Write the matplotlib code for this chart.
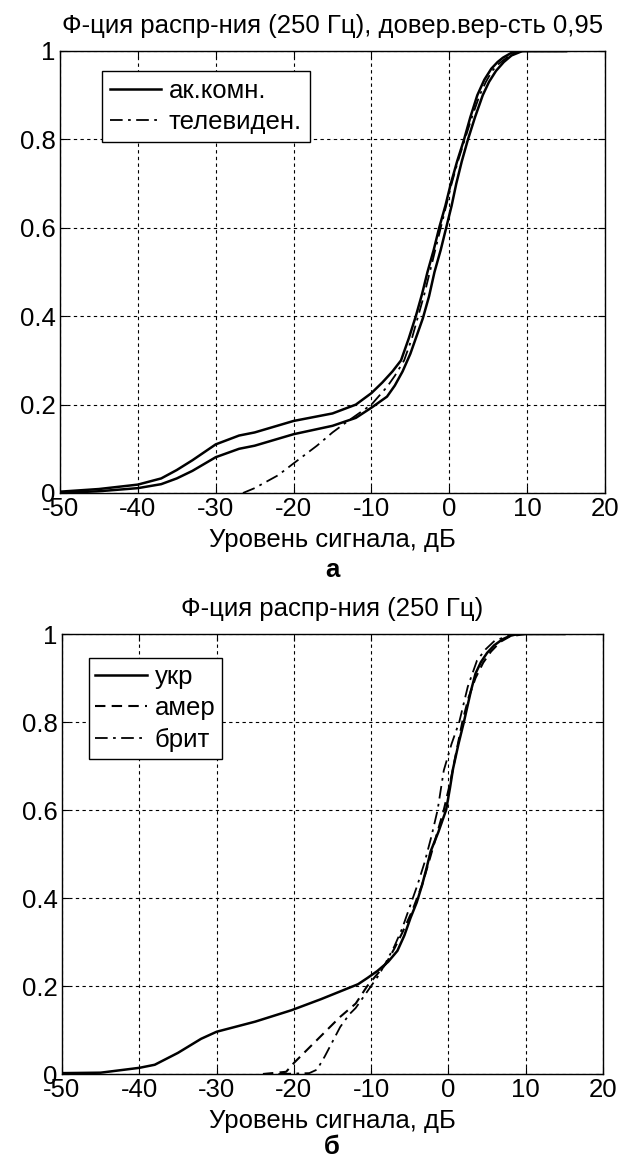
import matplotlib
matplotlib.use("Agg")
import matplotlib.pyplot as plt

plt.rcParams['font.family'] = ['Liberation Sans', 'DejaVu Sans']
plt.rcParams['axes.unicode_minus'] = False

# --- верхний график (а) ---
ak_hi_x = [-50, -45, -40, -37, -35, -33, -30, -27, -25, -20, -15, -12, -10, -8.6, -7.3, -6.2, -5.2, -4.3, -3.5, -2.8, -2.0, -1.3, -0.5, 0.2, 1.0, 1.9, 2.7, 3.6, 4.5, 5.4, 6.2, 6.9, 8, 9, 15]
ak_hi_y = [0.003, 0.009, 0.019, 0.033, 0.052, 0.074, 0.11, 0.13, 0.137, 0.163, 0.18, 0.2, 0.226, 0.25, 0.275, 0.3, 0.35, 0.4, 0.45, 0.5, 0.55, 0.6, 0.65, 0.7, 0.75, 0.8, 0.85, 0.9, 0.935, 0.96, 0.975, 0.985, 0.996, 1, 1]
ak_lo_x = [-50, -45, -40, -37, -35, -33, -30, -27, -25, -20, -15, -12, -10, -8, -7, -6, -5, -4.2, -3.4, -2.6, -1.9, -1.1, -0.4, 0.3, 0.9, 1.6, 2.4, 3.3, 4.3, 5.1, 6, 7, 8, 9.4, 15]
ak_lo_y = [0, 0.004, 0.011, 0.02, 0.033, 0.05, 0.081, 0.1, 0.107, 0.133, 0.152, 0.17, 0.193, 0.218, 0.243, 0.275, 0.315, 0.355, 0.395, 0.445, 0.5, 0.55, 0.6, 0.65, 0.7, 0.75, 0.8, 0.85, 0.9, 0.93, 0.955, 0.975, 0.99, 1, 1]
tv_x = [-26.5, -25, -22, -20, -17, -15, -13, -10, -8, -7, -5.8, -4.8, -4, -3.2, -2.5, -1.8, -1.1, -0.4, 0.3, 1.1, 2.0, 2.9, 3.9, 4.7, 5.5, 6.3, 7, 8, 9, 14]
tv_y = [0, 0.011, 0.04, 0.067, 0.107, 0.137, 0.163, 0.2, 0.24, 0.265, 0.3, 0.35, 0.4, 0.45, 0.5, 0.55, 0.6, 0.65, 0.7, 0.75, 0.8, 0.85, 0.9, 0.93, 0.955, 0.97, 0.98, 0.993, 1, 1]

# --- нижний график (б) ---
ukr_x = [-50, -45, -40, -38, -35, -32, -30, -25, -20.3, -16.5, -11.7, -10.5, -9.2, -7.8, -6.6, -5.7, -4.9, -4.1, -3.4, -2.8, -2.3, -1.3, -0.3, 0.2, 0.6, 1.3, 2.0, 2.9, 3.5, 4.2, 5.0, 5.9, 7, 8, 9, 15]
ukr_y = [0.002, 0.003, 0.014, 0.021, 0.048, 0.08, 0.096, 0.119, 0.145, 0.17, 0.204, 0.218, 0.234, 0.255, 0.28, 0.315, 0.355, 0.39, 0.43, 0.47, 0.506, 0.55, 0.6, 0.65, 0.694, 0.75, 0.8, 0.87, 0.91, 0.936, 0.957, 0.974, 0.988, 0.996, 1, 1]
amer_x = [-24, -21, -20, -18, -16, -14, -12, -10.5, -9.3, -8.1, -7, -6, -4.7, -3.4, -2.4, -1.5, -0.6, 0.2, 1.0, 1.8, 2.6, 3.5, 4.5, 5.5, 6.7, 8, 10]
amer_y = [0, 0.005, 0.025, 0.06, 0.095, 0.13, 0.16, 0.2, 0.225, 0.25, 0.285, 0.32, 0.37, 0.43, 0.49, 0.545, 0.6, 0.66, 0.73, 0.8, 0.855, 0.9, 0.935, 0.96, 0.982, 0.995, 1]
brit_x = [-22, -18, -17, -16, -14, -12.8, -12, -10, -9, -8.2, -7, -6, -5, -4, -3.1, -2.2, -1.4, -0.6, 0.4, 1.4, 2.5, 3.7, 4.8, 6, 8, 9.8]
brit_y = [0, 0.002, 0.01, 0.04, 0.107, 0.136, 0.15, 0.2, 0.225, 0.25, 0.29, 0.33, 0.38, 0.43, 0.48, 0.54, 0.6, 0.69, 0.75, 0.8, 0.88, 0.94, 0.965, 0.985, 0.997, 1]

xticks = [-50, -40, -30, -20, -10, 0, 10, 20]
yticks = [0, 0.2, 0.4, 0.6, 0.8, 1]
ytlabels = ['0', '0.2', '0.4', '0.6', '0.8', '1']

W, H = 627, 1161
fig = plt.figure(figsize=(W / 100, H / 100), dpi=100)

DASHDOT = (0, (7, 3, 1.5, 3))
DASHED = (0, (5, 3))
FS = 18.5


def setup(ax):
    ax.set_xlim(-50, 20)
    ax.set_ylim(0, 1)
    ax.set_xticks(xticks)
    ax.set_yticks(yticks)
    ax.set_yticklabels(ytlabels)
    ax.grid(True, color='black', linestyle=(0, (3, 3)), linewidth=0.8)
    ax.tick_params(direction='in', top=True, right=True, length=5, labelsize=FS, pad=3)
    for s in ax.spines.values():
        s.set_linewidth(1.0)
    ax.set_xlabel('Уровень сигнала, дБ', fontsize=FS, labelpad=5)


ax1 = fig.add_axes([60 / W, 1 - 493 / H, 545 / W, 442 / H])
setup(ax1)
l1, = ax1.plot(ak_hi_x, ak_hi_y, color='black', lw=1.8, label='ак.комн.')
ax1.plot(ak_lo_x, ak_lo_y, color='black', lw=1.8)
l2, = ax1.plot(tv_x, tv_y, color='black', lw=1.3, linestyle=DASHDOT, label='телевиден.')
ax1.set_title('Ф-ция распр-ния (250 Гц), довер.вер-сть 0,95', fontsize=FS, pad=13)
ax1.legend(handles=[l1, l2], loc='upper left', bbox_to_anchor=(0.077, 0.955), fontsize=FS,
           frameon=True, fancybox=False, edgecolor='black', framealpha=1,
           handlelength=2.0, handletextpad=0.3, borderpad=0.3, labelspacing=0.3,
           borderaxespad=0)
fig.text(332 / W, 1 - 570 / H, 'а', ha='center', va='center', fontsize=FS, fontweight='bold')

ax2 = fig.add_axes([62 / W, 1 - 1074 / H, 541 / W, 440 / H])
setup(ax2)
m1, = ax2.plot(ukr_x, ukr_y, color='black', lw=1.8, label='укр')
m2, = ax2.plot(amer_x, amer_y, color='black', lw=1.5, linestyle=DASHED, label='амер')
m3, = ax2.plot(brit_x, brit_y, color='black', lw=1.3, linestyle=DASHDOT, label='брит')
ax2.set_title('Ф-ция распр-ния (250 Гц)', fontsize=FS, pad=13)
ax2.legend(handles=[m1, m2, m3], loc='upper left', bbox_to_anchor=(0.05, 0.945), fontsize=FS,
           frameon=True, fancybox=False, edgecolor='black', framealpha=1,
           handlelength=2.0, handletextpad=0.3, borderpad=0.25, labelspacing=0.3,
           borderaxespad=0)
fig.text(332 / W, 1 - 1147 / H, 'б', ha='center', va='center', fontsize=FS, fontweight='bold')

fig.savefig('out.png', dpi=100, facecolor='white')
